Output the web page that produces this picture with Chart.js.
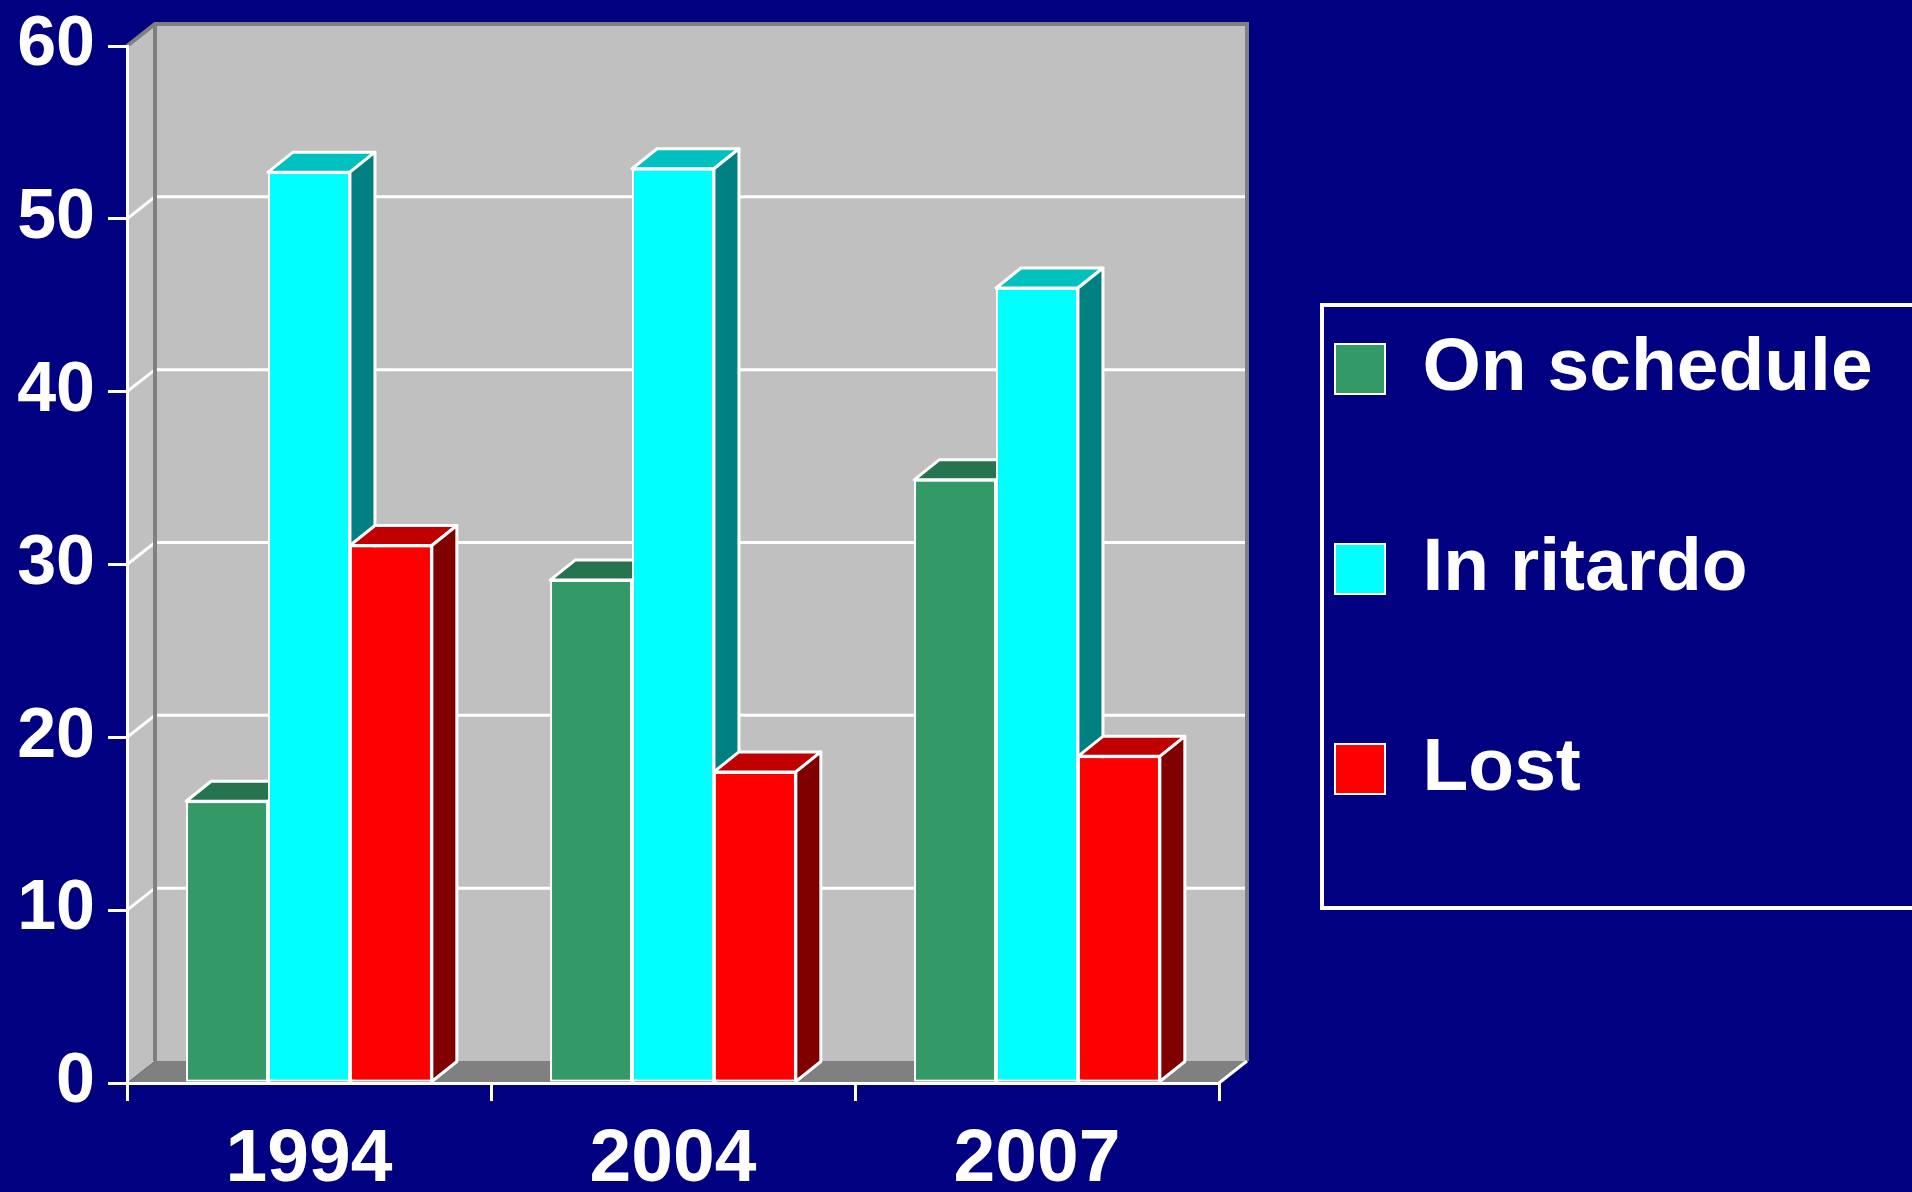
<!DOCTYPE html>
<html>
<head>
<meta charset="utf-8">
<script src="https://cdn.jsdelivr.net/npm/chart.js@4.4.1/dist/chart.umd.min.js"></script>
<style>
  html, body { margin: 0; padding: 0; background: #000080; }
  #wrap { width: 1912px; height: 1192px; position: relative; }
</style>
</head>
<body>
<div id="wrap"><canvas id="bc"></canvas></div>
<script>
// 数据
const YEARS = ['1994', '2004', '2007'];
const ON_SCHEDULE = [16.3, 29.1, 34.9];
const IN_RITARDO = [52.7, 52.9, 46];
const LOST = [31.1, 18, 18.9];
const SERIES_NAMES = ['On schedule', 'In ritardo', 'Lost'];
const Y_TICKS = [0, 10, 20, 30, 40, 50, 60];

// 颜色：正面 / 顶面 / 侧面
const FRONT = ['#339966', '#00FFFF', '#FF0000'];
const TOP = ['#267350', '#00C0C0', '#C00000'];
const SIDE = ['#1A4D33', '#008080', '#800000'];

const WALL_DX = 28, WALL_DY = 22;
const BAR_DX = 25, BAR_DY = 20;
const FONT = '"Liberation Sans", Arial, sans-serif';

function poly(ctx, pts, fill, stroke) {
  ctx.beginPath();
  ctx.moveTo(pts[0][0], pts[0][1]);
  for (let i = 1; i < pts.length; i++) ctx.lineTo(pts[i][0], pts[i][1]);
  ctx.closePath();
  ctx.fillStyle = fill;
  ctx.fill();
  if (stroke) ctx.stroke();
}

/**
 * 伪 3D 插件：背墙、侧墙、地板、柱子顶面与侧面
 */
const box3d = {
  id: 'box3d',
  beforeDraw(chart) {
    const ctx = chart.ctx, ca = chart.chartArea, ys = chart.scales.y;
    const L = ca.left, R = ca.right, T = ca.top, B = ca.bottom;
    ctx.save();
    poly(ctx, [[L, T], [L + WALL_DX, T - WALL_DY], [L + WALL_DX, B - WALL_DY], [L, B]], '#C0C0C0');
    poly(ctx, [[L + WALL_DX, T - WALL_DY], [R + WALL_DX, T - WALL_DY], [R + WALL_DX, B - WALL_DY], [L + WALL_DX, B - WALL_DY]], '#C0C0C0');
    poly(ctx, [[L, B], [L + WALL_DX, B - WALL_DY], [R + WALL_DX, B - WALL_DY], [R, B]], '#808080');

    // 墙上的网格线
    ctx.strokeStyle = '#FFFFFF';
    ctx.lineWidth = 3;
    Y_TICKS.forEach(v => {
      if (v === ys.min || v === ys.max) return;
      const py = ys.getPixelForValue(v);
      ctx.beginPath();
      ctx.moveTo(L, py);
      ctx.lineTo(L + WALL_DX, py - WALL_DY);
      ctx.lineTo(R + WALL_DX, py - WALL_DY);
      ctx.stroke();
    });

    // 墙边
    ctx.strokeStyle = '#808080';
    ctx.lineWidth = 4;
    ctx.beginPath();
    ctx.moveTo(L, T);
    ctx.lineTo(L + WALL_DX, T - WALL_DY);
    ctx.lineTo(R + WALL_DX, T - WALL_DY);
    ctx.lineTo(R + WALL_DX, B - WALL_DY);
    ctx.moveTo(L + WALL_DX, T - WALL_DY);
    ctx.lineTo(L + WALL_DX, B - WALL_DY);
    ctx.stroke();

    ctx.strokeStyle = '#FFFFFF';
    ctx.lineWidth = 3;
    ctx.beginPath();
    ctx.moveTo(R, B);
    ctx.lineTo(R + WALL_DX, B - WALL_DY);
    ctx.stroke();
    ctx.restore();

    // 图例放到右侧（含裁剪区域）
    const lg = chart.legend;
    lg.left = 1210;
    lg.right = 1912;
    lg.width = lg.right - lg.left;
    lg.top = 0;
    lg.bottom = 1138;
    lg.height = lg.bottom - lg.top;
  },
  afterDatasetsDraw(chart) {
    const ctx = chart.ctx;
    ctx.save();
    ctx.lineWidth = 3;
    ctx.lineJoin = 'round';
    ctx.strokeStyle = '#FFFFFF';
    YEARS.forEach((_, i) => {
      chart.data.datasets.forEach((ds, d) => {
        const bar = chart.getDatasetMeta(d).data[i];
        const { x, y, base, width } = bar.getProps(['x', 'y', 'base', 'width'], true);
        const l = x - width / 2, r = x + width / 2;
        poly(ctx, [[l, y], [l + BAR_DX, y - BAR_DY], [r + BAR_DX, y - BAR_DY], [r, y]], TOP[d], true);
        poly(ctx, [[r, y], [r + BAR_DX, y - BAR_DY], [r + BAR_DX, base - BAR_DY], [r, base]], SIDE[d], true);
        bar.draw(ctx);
      });
    });
    ctx.restore();
  },
  afterDraw(chart) {
    // 图例外框
    const ctx = chart.ctx;
    ctx.save();
    ctx.strokeStyle = '#FFFFFF';
    ctx.lineWidth = 4;
    ctx.strokeRect(1322, 305, 640, 603);
    ctx.restore();
  }
};

const series = [ON_SCHEDULE, IN_RITARDO, LOST];

new Chart(document.getElementById('bc'), {
  type: 'bar',
  data: {
    labels: YEARS,
    datasets: series.map((data, d) => ({
      label: SERIES_NAMES[d],
      data,
      backgroundColor: FRONT[d],
      borderColor: '#FFFFFF',
      borderWidth: 2,
      borderSkipped: false
    }))
  },
  options: {
    responsive: true,
    maintainAspectRatio: false,
    animation: false,
    layout: { padding: { left: 0, top: 46, right: 693, bottom: 0 } },
    datasets: { bar: { categoryPercentage: 0.675, barPercentage: 1 } },
    plugins: {
      legend: {
        position: 'chartArea',
        labels: {
          color: '#FFFFFF',
          font: { family: FONT, size: 75, weight: 'bold' },
          boxWidth: 50,
          boxHeight: 50,
          padding: 125
        }
      },
      tooltip: { enabled: false }
    },
    scales: {
      x: {
        grid: { offset: true, drawOnChartArea: false, color: '#FFFFFF', lineWidth: 3, tickLength: 18 },
        border: { color: '#FFFFFF', width: 3 },
        ticks: { color: '#FFFFFF', font: { family: FONT, size: 75, weight: 'bold' }, padding: 14 },
        afterFit: a => { a.height = 109; }
      },
      y: {
        min: 0,
        max: 60,
        grid: { drawOnChartArea: false, color: '#FFFFFF', lineWidth: 3, tickLength: 19 },
        border: { color: '#FFFFFF', width: 3 },
        ticks: { color: '#FFFFFF', font: { family: FONT, size: 70, weight: 'bold', lineHeight: 0.9 }, padding: 13 },
        afterBuildTicks: a => { a.ticks = Y_TICKS.map(v => ({ value: v })); },
        afterFit: a => { a.width = 127; }
      }
    }
  },
  plugins: [box3d]
});
</script>
</body>
</html>
